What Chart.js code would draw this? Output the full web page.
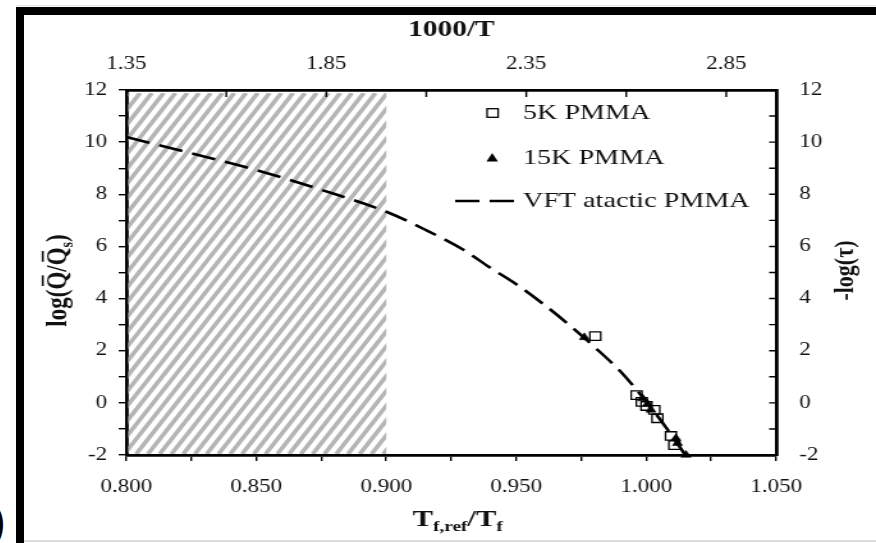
<!DOCTYPE html>
<html>
<head>
<meta charset="utf-8">
<title>VFT atactic PMMA</title>
<script src="https://cdn.jsdelivr.net/npm/chart.js@4.4.0/dist/chart.umd.min.js"></script>
<style>
html, body { margin: 0; padding: 0; background: #fff; width: 876px; height: 543px; overflow: hidden; position: relative; }
.frame { position: absolute; left: 16px; top: 7px; width: 900px; height: 600px; border-left: 8px solid #000; border-top: 8px solid #000; }
.edge-top { position: absolute; left: 16px; top: 5px; width: 860px; height: 1px; background: #e2e2e2; }
.edge-bottom { position: absolute; left: 24px; top: 540px; width: 852px; height: 2px; background: #dcdcdc; }
.chart-box { position: absolute; left: 24px; top: 15px; width: 852px; height: 525px; }
#chart { display: block; filter: blur(0.35px); }
.fig-label { position: absolute; left: -35px; top: 494px; font: 46px "Liberation Sans", sans-serif; color: #000; }
</style>
</head>
<body>
<div class="edge-top"></div>
<div class="frame"></div>
<div class="edge-bottom"></div>
<span class="fig-label">b)</span>
<div class="chart-box">
    <canvas id="chart" width="666" height="525" style="width:852px;height:525px"></canvas>
</div>
<script>
// Data
const vftX = [0.800, 0.825, 0.850, 0.875, 0.900, 0.915, 0.930, 0.940, 0.950, 0.960, 0.970, 0.980, 0.990, 1.000, 1.008, 1.015];
const vftY = [10.20, 9.57, 8.93, 8.17, 7.33, 6.64, 5.85, 5.18, 4.55, 3.82, 3.02, 2.15, 1.21, 0.05, -1.00, -2.00];

const pmma5kX = [0.9804, 0.9963, 0.9983, 1.0001, 1.0031, 1.0043, 1.0095, 1.0108];
const pmma5kY = [2.56, 0.30, 0.04, -0.12, -0.27, -0.59, -1.27, -1.62];

const pmma15kX = [0.9762, 0.9986, 1.0005, 1.0018, 1.0114, 1.0120, 1.0153];
const pmma15kY = [2.51, 0.17, -0.04, -0.27, -1.36, -1.55, -2.00];

// Shaded (hatched) region on the bottom axis
const shadeRange = [0.800, 0.900];

// Axis ticks and labels
const xTicks = [0.800, 0.825, 0.850, 0.875, 0.900, 0.925, 0.950, 0.975, 1.000, 1.025, 1.050];
const xLabels = [0.800, 0.850, 0.900, 0.950, 1.000, 1.050];
const yTicks = [-2, -1, 0, 1, 2, 3, 4, 5, 6, 7, 8, 9, 10, 11, 12];
const yLabels = [-2, 0, 2, 4, 6, 8, 10, 12];
const topTicks = [1.35, 1.60, 1.85, 2.10, 2.35, 2.60, 2.85];
const topLabels = [1.35, 1.85, 2.35, 2.85];
const topRange = [1.35, 2.975];

const legendNames = ['5K PMMA', '15K PMMA', 'VFT atactic PMMA'];

const toPoints = (xs, ys) => xs.map((x, i) => ({ x: x, y: ys[i] }));
const hasValue = (list, v) => list.some(t => Math.abs(t - v) < 1e-6);

const serif = '"Liberation Serif", "Times New Roman", serif';
const tickFont = { family: serif, size: 18 };
const textColor = '#111';

// Hatched band
const hatchPlugin = {
    id: 'hatch',
    beforeDatasetsDraw(chart) {
        const { ctx, chartArea, scales } = chart;
        const left = scales.x.getPixelForValue(shadeRange[0]) + 1.5;
        const right = scales.x.getPixelForValue(shadeRange[1]);
        const top = chartArea.top + 3;
        const bottom = chartArea.bottom - 1;
        ctx.save();
        ctx.beginPath();
        ctx.rect(left, top, right - left, bottom - top);
        ctx.clip();
        ctx.strokeStyle = '#b5b5b5';
        ctx.lineWidth = 3.6;
        const slant = (bottom - top) * 0.62;
        const step = 9.2;
        ctx.beginPath();
        for (let sx = left - slant - step; sx < right + step; sx += step) {
            ctx.moveTo(sx, bottom);
            ctx.lineTo(sx + slant, top);
        }
        ctx.stroke();
        ctx.restore();
    }
};

// Inward tick marks on the top and right axes
const innerTicksPlugin = {
    id: 'innerTicks',
    afterDatasetsDraw(chart) {
        const { ctx, chartArea, scales } = chart;
        ctx.save();
        ctx.strokeStyle = '#000';
        ctx.lineWidth = 1.4;
        ctx.beginPath();
        scales.x2.ticks.forEach(t => {
            const px = scales.x2.getPixelForValue(t.value);
            ctx.moveTo(px, chartArea.top);
            ctx.lineTo(px, chartArea.top + 7);
        });
        scales.y2.ticks.forEach(t => {
            const py = scales.y2.getPixelForValue(t.value);
            ctx.moveTo(chartArea.right, py);
            ctx.lineTo(chartArea.right - 5.5, py);
        });
        ctx.stroke();
        ctx.restore();
    }
};

// text made of runs: { t, sub, bar }
function drawRich(ctx, runs, cx, cy, size, angle) {
    const font = r => `bold ${r.sub ? Math.round(size * 0.62) : size}px ${serif}`;
    ctx.save();
    ctx.translate(cx, cy);
    ctx.rotate(angle || 0);
    ctx.fillStyle = textColor;
    ctx.strokeStyle = textColor;
    ctx.textBaseline = 'alphabetic';
    ctx.textAlign = 'left';
    let total = 0;
    runs.forEach(r => {
        ctx.font = font(r);
        r.w = ctx.measureText(r.t).width;
        total += r.w;
    });
    let x = -total / 2;
    const base = size * 0.33;
    runs.forEach(r => {
        ctx.font = font(r);
        const y = r.sub ? base + size * 0.22 : base;
        ctx.fillText(r.t, x, y);
        if (r.bar) {
            ctx.lineWidth = 1.6;
            ctx.beginPath();
            ctx.moveTo(x + r.w * 0.2, y - size * 0.78);
            ctx.lineTo(x + r.w * 0.8, y - size * 0.78);
            ctx.stroke();
        }
        x += r.w;
    });
    ctx.restore();
}

const titlesPlugin = {
    id: 'titles',
    afterDraw(chart) {
        const { ctx, chartArea } = chart;
        const midX = (chartArea.left + chartArea.right) / 2;
        const midY = (chartArea.top + chartArea.bottom) / 2;
        drawRich(ctx, [{ t: '1000/T' }], midX, 13, 23, 0);
        drawRich(ctx, [{ t: 'T' }, { t: 'f,ref', sub: true }, { t: '/T' }, { t: 'f', sub: true }], midX + 5, 503, 24, 0);
        drawRich(ctx, [{ t: 'log(' }, { t: 'Q', bar: true }, { t: '/' }, { t: 'Q', bar: true }, { t: 's', sub: true }, { t: ')' }],
            25, midY + 8, 23, -Math.PI / 2);
        drawRich(ctx, [{ t: '-log(τ)' }], 641, midY - 2, 22, -Math.PI / 2);
    }
};

// Legend inside the plot area
const legendPlugin = {
    id: 'insideLegend',
    afterDraw(chart) {
        const { ctx } = chart;
        const textX = 390;
        const rows = [98, 143, 186];
        ctx.save();
        ctx.font = `22px ${serif}`;
        ctx.fillStyle = textColor;
        ctx.textBaseline = 'middle';
        legendNames.forEach((name, i) => ctx.fillText(name, textX, rows[i]));

        ctx.strokeStyle = '#000';
        ctx.lineWidth = 1.3;
        ctx.strokeRect(362, rows[0] - 4.3, 8.6, 8.6);

        ctx.fillStyle = '#000';
        ctx.beginPath();
        ctx.moveTo(366, rows[1] - 5);
        ctx.lineTo(370.5, rows[1] + 3.5);
        ctx.lineTo(361.5, rows[1] + 3.5);
        ctx.closePath();
        ctx.fill();

        ctx.lineWidth = 2.6;
        ctx.setLineDash([19, 8]);
        ctx.beginPath();
        ctx.moveTo(337, rows[2]);
        ctx.lineTo(388, rows[2]);
        ctx.stroke();
        ctx.restore();
    }
};

const ctx = document.getElementById('chart').getContext('2d');

const chart = new Chart(ctx, {
    type: 'scatter',
    data: {
        datasets: [
            {
                label: legendNames[0],
                data: toPoints(pmma5kX, pmma5kY),
                pointStyle: 'rect',
                pointRadius: 6,
                pointBorderWidth: 1.3,
                borderColor: '#000',
                backgroundColor: 'rgba(255,255,255,0)',
                clip: false,
                order: 1
            },
            {
                label: legendNames[1],
                data: toPoints(pmma15kX, pmma15kY),
                pointStyle: 'triangle',
                pointRadius: 4.6,
                pointBorderWidth: 0.5,
                borderColor: '#000',
                backgroundColor: '#000',
                clip: false,
                order: 0
            },
            {
                type: 'line',
                label: legendNames[2],
                data: toPoints(vftX, vftY),
                borderColor: '#000',
                borderWidth: 2.6,
                borderDash: [19, 8],
                pointRadius: 0,
                cubicInterpolationMode: 'monotone',
                fill: false,
                clip: false,
                order: 2
            }
        ]
    },
    options: {
        responsive: false,
        animation: false,
        devicePixelRatio: 1,
        layout: { padding: 0 },
        plugins: {
            legend: { display: false },
            tooltip: { enabled: false }
        },
        scales: {
            x: {
                type: 'linear',
                position: 'bottom',
                min: xTicks[0],
                max: xTicks[xTicks.length - 1],
                afterBuildTicks: scale => { scale.ticks = xTicks.map(v => ({ value: v })); },
                afterFit: scale => { scale.height = 85; },
                grid: { drawOnChartArea: false, drawTicks: true, tickLength: 6, color: '#000', tickColor: '#000', lineWidth: 1.4 },
                border: { display: true, color: '#000', width: 2.8 },
                ticks: {
                    font: tickFont,
                    color: textColor,
                    padding: 15,
                    autoSkip: false,
                    maxRotation: 0,
                    callback: v => hasValue(xLabels, v) ? v.toFixed(3) : ''
                }
            },
            y: {
                type: 'linear',
                position: 'left',
                min: yTicks[0],
                max: yTicks[yTicks.length - 1],
                afterBuildTicks: scale => { scale.ticks = yTicks.map(v => ({ value: v })); },
                afterFit: scale => { scale.width = 80; },
                grid: { drawOnChartArea: false, drawTicks: true, tickLength: 6, color: '#000', tickColor: '#000', lineWidth: 1.4 },
                border: { display: true, color: '#000', width: 2.8 },
                ticks: {
                    font: tickFont,
                    color: textColor,
                    padding: 9,
                    autoSkip: false,
                    callback: v => hasValue(yLabels, v) ? String(v) : ''
                }
            },
            x2: {
                type: 'linear',
                position: 'top',
                min: topRange[0],
                max: topRange[1],
                afterBuildTicks: scale => { scale.ticks = topTicks.map(v => ({ value: v })); },
                afterFit: scale => { scale.height = 75; },
                grid: { display: false, drawTicks: false },
                border: { display: true, color: '#000', width: 2.8 },
                ticks: {
                    font: tickFont,
                    color: textColor,
                    padding: 15,
                    autoSkip: false,
                    maxRotation: 0,
                    callback: v => hasValue(topLabels, v) ? v.toFixed(2) : ''
                }
            },
            y2: {
                type: 'linear',
                position: 'right',
                min: yTicks[0],
                max: yTicks[yTicks.length - 1],
                afterBuildTicks: scale => { scale.ticks = yTicks.map(v => ({ value: v })); },
                afterFit: scale => { scale.width = 78; },
                grid: { display: false, drawTicks: false },
                border: { display: true, color: '#000', width: 2.8 },
                ticks: {
                    font: tickFont,
                    color: textColor,
                    padding: 18,
                    autoSkip: false,
                    callback: v => hasValue(yLabels, v) ? String(v) : ''
                }
            }
        }
    },
    plugins: [hatchPlugin, innerTicksPlugin, titlesPlugin, legendPlugin]
});
</script>
</body>
</html>
